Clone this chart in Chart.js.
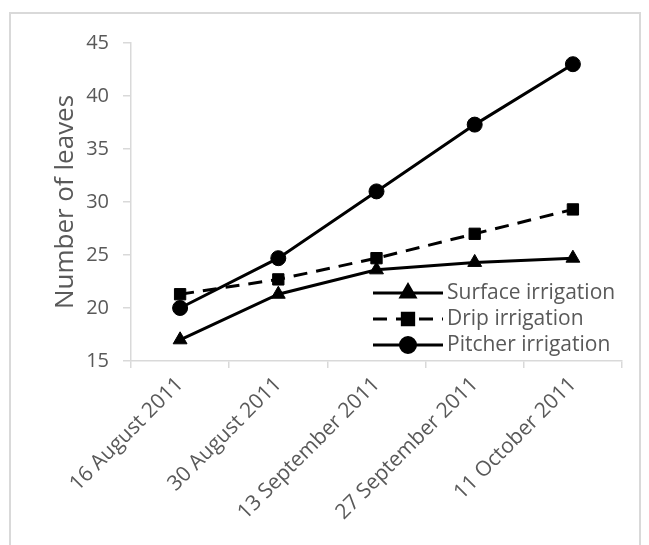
<!DOCTYPE html>
<html>
<head>
<meta charset="utf-8">
<script src="https://cdn.jsdelivr.net/npm/chart.js@4/dist/chart.umd.min.js"></script>
<style>
html,body{margin:0;padding:0;background:#fff;overflow:hidden;}
#wrap{position:relative;width:649px;height:545px;}
#frame{position:absolute;left:9px;top:12px;width:632px;height:600px;border:2px solid #d9d9d9;box-sizing:border-box;}
canvas{position:absolute;left:0;top:0;}
</style>
</head>
<body>
<div id="wrap"><div id="frame"></div><canvas id="c" width="649" height="545"></canvas></div>
<script>
const categories = ["16 August 2011","30 August 2011","13 September 2011","27 September 2011","11 October 2011"];
const surface = [17, 21.3, 23.6, 24.3, 24.7];
const drip = [21.3, 22.7, 24.7, 27, 29.3];
const pitcher = [20, 24.7, 31, 37.3, 43];
const seriesNames = ["Surface irrigation","Drip irrigation","Pitcher irrigation"];
const yTicks = [15,20,25,30,35,40,45];

const FONT = "'Open Sans', sans-serif";
const GREY = "#595959";
const AXIS = "#d9d9d9";

const legendPlugin = {
  id: 'insideLegend',
  afterDatasetsDraw(chart) {
    const ctx = chart.ctx;
    const ca = chart.chartArea;
    const x0 = ca.left + 242, lineLen = 70;
    const rows = [293, 319, 345];
    chart.data.datasets.forEach((ds, i) => {
      const y = rows[i];
      ctx.save();
      ctx.strokeStyle = '#000';
      ctx.lineWidth = 3;
      ctx.setLineDash(ds.borderDash || []);
      ctx.beginPath();
      ctx.moveTo(x0, y);
      ctx.lineTo(x0 + lineLen, y);
      ctx.stroke();
      ctx.setLineDash([]);
      Chart.helpers.drawPoint(ctx, {pointStyle: ds.pointStyle, radius: ds.pointRadius, borderWidth: 1}, x0 + lineLen/2, y);
      ctx.fillStyle = GREY;
      ctx.font = "21px " + FONT;
      ctx.textBaseline = 'middle';
      ctx.textAlign = 'left';
      ctx.fillText(ds.label, x0 + lineLen + 4, y);
      ctx.restore();
    });
  }
};

new Chart(document.getElementById('c'), {
  type: 'line',
  data: {
    labels: categories,
    datasets: [
      {label: seriesNames[0], data: surface, borderColor:'#000', backgroundColor:'#000', borderWidth:3, pointStyle:'triangle', pointRadius:8, pointBorderWidth:1, tension:0},
      {label: seriesNames[1], data: drip, borderColor:'#000', backgroundColor:'#000', borderWidth:3, borderDash:[14,9], pointStyle:'rect', pointRadius:8, pointBorderWidth:1, tension:0},
      {label: seriesNames[2], data: pitcher, borderColor:'#000', backgroundColor:'#000', borderWidth:3, pointStyle:'circle', pointRadius:7.5, pointBorderWidth:1, tension:0}
    ]
  },
  options: {
    responsive: false,
    animation: false,
    devicePixelRatio: 1,
    layout: {padding: {top: 43, right: 27, left: 10, bottom: 0}},
    plugins: {legend: {display:false}, tooltip:{enabled:false}},
    scales: {
      x: {
        offset: true,
        grid: {offset: true, drawOnChartArea: false, drawTicks: true, tickLength: 7, color: AXIS, lineWidth: 1.5},
        border: {color: AXIS, width: 1.5},
        ticks: {color: GREY, font: {family: FONT, size: 21}, maxRotation: 45, minRotation: 45, padding: 4},
        afterFit(s){ s.height = 184; }
      },
      y: {
        min: 15, max: 45,
        afterBuildTicks(s){ s.ticks = yTicks.map(v => ({value: v})); },
        grid: {drawOnChartArea: false, drawTicks: true, tickLength: 8, color: AXIS, lineWidth: 1.5},
        border: {color: AXIS, width: 1.5},
        ticks: {color: GREY, font: {family: FONT, size: 20}, padding: 14},
        title: {display: true, text: 'Number of leaves', color: GREY, font: {family: FONT, size: 26}, padding: {top:40,bottom:0}},
        afterFit(s){ s.width = 121; }
      }
    }
  },
  plugins: [legendPlugin]
});
</script>
</body>
</html>
